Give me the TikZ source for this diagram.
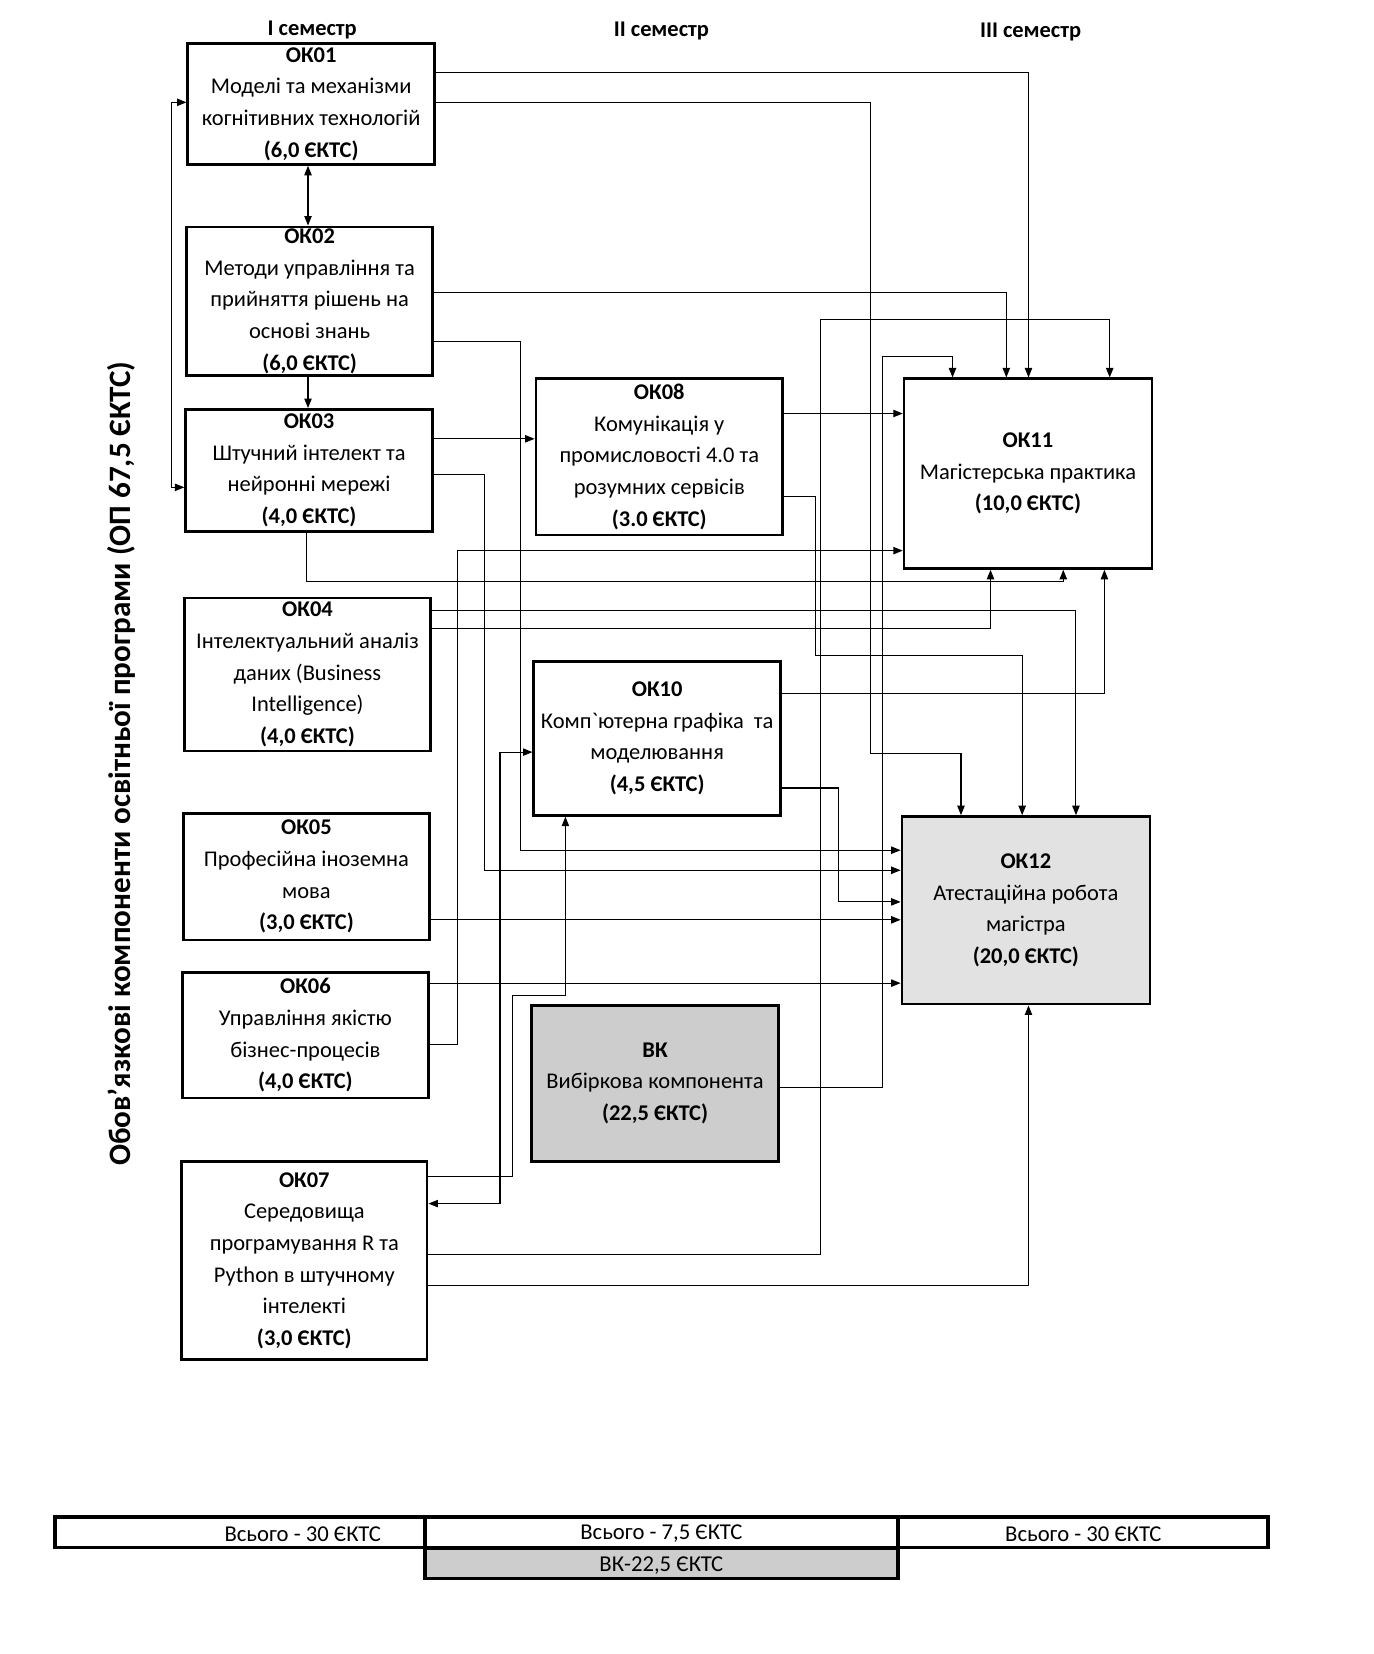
\documentclass[tikz,border=0pt]{standalone}
\usepackage{fontspec}
\setmainfont{Carlito}
\newfontfamily\rawfont{Carlito}
\usetikzlibrary{arrows.meta}
\definecolor{okgray}{HTML}{E2E2E2}
\definecolor{bkgray}{HTML}{CDCDCD}
\begin{document}
\begin{tikzpicture}[x=1pt,y=-1pt,
  box/.style={draw, line width=2.4pt, fill=white, align=center, inner sep=0pt,
              font=\fontsize{21.3}{30}\selectfont},
  con/.style={line width=1pt},
  arr/.style={con, -{Triangle[length=9pt,width=7pt]}},
  darr/.style={con, {Triangle[length=9pt,width=7pt]}-{Triangle[length=9pt,width=7pt]}},
  bar/.style={draw, line width=3.5pt, inner sep=0pt, minimum height=29pt},
  bartext/.style={font=\fontsize{21.5}{24}\selectfont},
  hdr/.style={font=\fontsize{21.3}{24}\selectfont\bfseries},
  ]
\useasboundingbox (0,0) rectangle (1302,1568);

% headers
\node[hdr] (s1) at (296,28) {I семестр};
\node[hdr] (s2) at (627,29) {II семестр};
\node[hdr] (s3) at (977,30) {III семестр};
\node[rotate=90, font=\fontsize{29.5}{32}\selectfont\bfseries] (title) at (115,724)
  {Обов’язкові компоненти освітньої програми (ОП 67,5 ЄКТС)};

% boxes
\node[box, minimum width=234pt, minimum height=115pt] (OK01) at (295,98.5)
  {\textbf{ОК01}\\Моделі та механізми\\когнітивних технологій\\\textbf{(6,0 ЄКТС)}};
\node[box, minimum width=233pt, minimum height=141pt] (OK02) at (293.5,285.5)
  {\textbf{ОК02}\\Методи управління та\\прийняття рішень на\\основі знань\\\textbf{(6,0 ЄКТС)}};
\node[box, minimum width=234pt, minimum height=116pt] (OK03) at (293,446)
  {\textbf{ОК03}\\Штучний інтелект та\\нейронні мережі\\\textbf{(4,0 ЄКТС)}};
\node[box, minimum width=233pt, minimum height=145pt] (OK04) at (291.5,639.5)
  {\textbf{ОК04}\\Інтелектуальний аналіз\\даних (Business\\Intelligence)\\\textbf{(4,0 ЄКТС)}};
\node[box, minimum width=233pt, minimum height=120pt] (OK05) at (290.5,831)
  {\textbf{ОК05}\\Професійна іноземна\\мова\\\textbf{(3,0 ЄКТС)}};
\node[box, minimum width=233pt, minimum height=119pt] (OK06) at (289.5,981.5)
  {\textbf{ОК06}\\Управління якістю\\бізнес-процесів\\\textbf{(4,0 ЄКТС)}};
\node[box, minimum width=233pt, minimum height=188pt] (OK07) at (288.5,1195)
  {\textbf{ОК07}\\Середовища\\програмування R та\\Python в штучному\\інтелекті\\\textbf{(3,0 ЄКТС)}};
\node[box, minimum width=234pt, minimum height=148pt] (OK08) at (625,433)
  {\textbf{ОК08}\\Комунікація у\\промисловості 4.0 та\\розумних сервісів\\\textbf{(3.0 ЄКТС)}};
\node[box, minimum width=234pt, minimum height=146pt] (OK10) at (623,700)
  {\textbf{ОК10}\\Комп{\rawfont`}ютерна графіка\ \ та\\моделювання\\\textbf{(4,5 ЄКТС)}};
\node[box, fill=bkgray, minimum width=234pt, minimum height=148pt] (BK) at (621,1027)
  {\textbf{ВК}\\Вибіркова компонента\\\textbf{(22,5 ЄКТС)}};
\node[box, minimum width=235pt, minimum height=180pt] (OK11) at (974.5,449)
  {\textbf{ОК11}\\Магістерська практика\\\textbf{(10,0 ЄКТС)}};
\node[box, fill=okgray, minimum width=235pt, minimum height=178pt] (OK12) at (972.5,863)
  {\textbf{ОК12}\\Атестаційна робота\\магістра\\\textbf{(20,0 ЄКТС)}};

% connectors, left column
\draw[darr] (OK01.west |- 0,97) -- (163,97) -- (163,462) -- (OK03.west |- 0,462);
\draw[darr] (292,0 |- OK01.south) -- (292,0 |- OK02.north);
\draw[arr] (292,0 |- OK02.south) -- (292,0 |- OK03.north);

% to OK11
\draw[arr] (OK01.east |- 0,69) -| (OK11.north -| 975,0);
\draw[arr] (OK02.east |- 0,277) -| (OK11.north -| 954,0);
\draw[arr] (OK07.east |- 0,1189) -| (778,303) -| (OK11.north -| 1052,0);
\draw[arr] (BK.east |- 0,1031) -| (837,338) -| (OK11.north -| 903,0);
\draw[arr] (OK08.east |- 0,392) -- (OK11.west |- 0,392);
\draw[arr] (OK06.east |- 0,990) -| (434,522) -- (OK11.west |- 0,522);
\draw[arr] (OK03.south -| 291,0) |- (1008,551) -- (OK11.south -| 1008,0);
\draw[arr] (OK04.east |- 0,596) -| (OK11.south -| 939,0);
\draw[arr] (OK10.east |- 0,657) -| (OK11.south -| 1047,0);

% to OK08 / OK10
\draw[arr] (OK03.east |- 0,416) -- (OK08.west |- 0,416);
\draw[darr] (OK07.east |- 0,1141) -| (474,713) -- (OK10.west |- 0,713);
\draw[arr] (OK07.east |- 0,1115) -| (486,944) -| (OK10.south -| 536,0);

% to OK12
\draw[arr] (OK01.east |- 0,97) -- (825,97) -- (825,714) -| (OK12.north -| 911,0);
\draw[arr] (OK08.east |- 0,471) -| (773,621) -| (OK12.north -| 969,0);
\draw[arr] (OK04.east |- 0,579) -| (OK12.north -| 1020,0);
\draw[arr] (OK02.east |- 0,324) -| (493,806) -- (OK12.west |- 0,806);
\draw[arr] (OK03.east |- 0,450) -| (459,825) -- (OK12.west |- 0,825);
\draw[arr] (OK10.east |- 0,747) -| (795,855) -- (OK12.west |- 0,855);
\draw[arr] (OK05.east |- 0,872) -- (OK12.west |- 0,872);
\draw[arr] (OK06.east |- 0,932) -- (OK12.west |- 0,932);
\draw[arr] (OK07.east |- 0,1219) -| (OK12.south -| 975,0);

% bottom bars
\node[bar, minimum width=351pt] (b1) at (227.5,1452.5) {};
\node[bar, minimum width=448pt] (b2) at (627,1452.5) {};
\node[bar, minimum width=351pt] (b3) at (1026.5,1452.5) {};
\node[bar, fill=bkgray, minimum width=448pt] (b4) at (627,1482) {};
\node[bartext] (t1) at (287,1454) {Всього - 30 ЄКТС};
\node[bartext] (t2) at (627,1454) {Всього - 7,5 ЄКТС};
\node[bartext] (t3) at (1027,1454) {Всього - 30 ЄКТС};
\node[bartext] (t4) at (627,1484) {ВК-22,5 ЄКТС};
\end{tikzpicture}
\end{document}
